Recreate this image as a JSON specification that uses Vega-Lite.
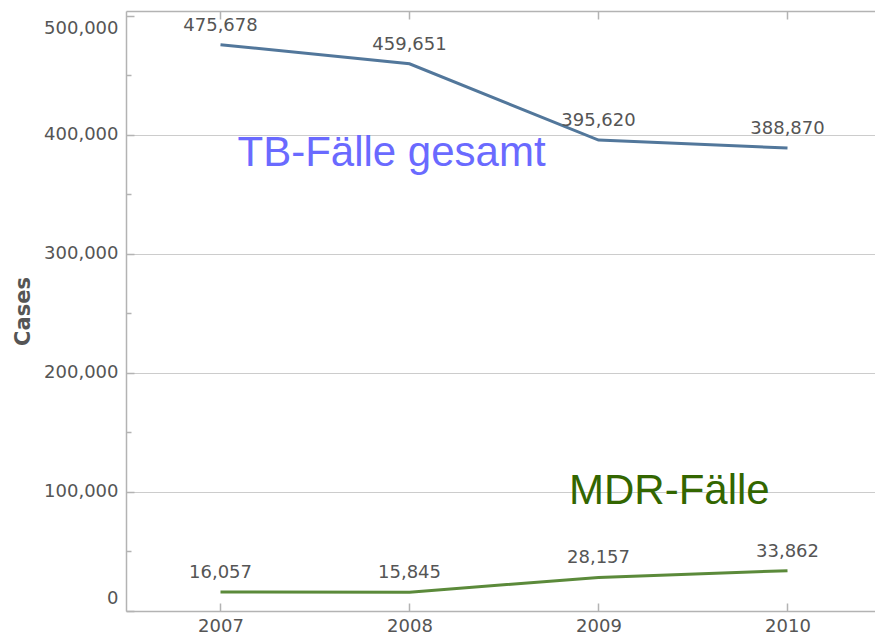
{
  "$schema": "https://vega.github.io/schema/vega-lite/v6.json",
  "width": 749,
  "height": 600,
  "padding": {"left": 12, "top": 10, "right": 0, "bottom": 0},
  "background": "white",
  "config": {
    "view": {"stroke": null},
    "font": "DejaVu Sans"
  },
  "data": {
    "values": [
      {"year": 2007, "series": "TB", "cases": 475678},
      {"year": 2008, "series": "TB", "cases": 459651},
      {"year": 2009, "series": "TB", "cases": 395620},
      {"year": 2010, "series": "TB", "cases": 388870},
      {"year": 2007, "series": "MDR", "cases": 16057},
      {"year": 2008, "series": "MDR", "cases": 15845},
      {"year": 2009, "series": "MDR", "cases": 28157},
      {"year": 2010, "series": "MDR", "cases": 33862}
    ]
  },
  "resolve": {"axis": {"x": "independent"}},
  "layer": [
    {
      "mark": {"type": "line", "strokeWidth": 3},
      "encoding": {
        "x": {
          "field": "year", "type": "quantitative",
          "scale": {"domain": [2006.5, 2010.463], "nice": false, "zero": false},
          "axis": {
            "values": [2007, 2008, 2009, 2010], "format": "d", "title": null, "grid": false,
            "tickSize": -8, "labelPadding": 14, "domainColor": "#b3b3b3", "domainWidth": 1.5,
            "tickColor": "#b3b3b3", "tickWidth": 1.5, "labelColor": "#555555", "labelFontSize": 18,
            "labelFont": "DejaVu Sans"
          }
        },
        "y": {
          "field": "cases", "type": "quantitative",
          "scale": {"domain": [0, 504000], "nice": false},
          "axis": {
            "values": [0, 50000, 100000, 150000, 200000, 250000, 300000, 350000, 400000, 450000, 500000],
            "labelExpr": "datum.value % 100000 === 0 ? format(datum.value, ',') : ''",
            "title": "Cases", "titleFontSize": 21, "titleFontWeight": "bold", "titleColor": "#555555",
            "titleFont": "DejaVu Sans", "titlePadding": 10,
            "tickSize": {"condition": {"test": "datum.value % 100000 !== 0", "value": -5}, "value": -8},
            "gridOpacity": {"condition": {"test": "datum.value % 100000 !== 0 || datum.value >= 500000 || datum.value === 0", "value": 0}, "value": 1},
            "gridColor": "#cccccc", "gridWidth": 1.2,
            "labelFlush": 8, "labelFlushOffset": -4, "labelPadding": 16,
            "domainColor": "#b3b3b3", "domainWidth": 1.5, "tickColor": "#b3b3b3", "tickWidth": 1.5,
            "labelColor": "#555555", "labelFontSize": 18, "labelFont": "DejaVu Sans"
          }
        },
        "color": {
          "field": "series", "type": "nominal",
          "scale": {"domain": ["TB", "MDR"], "range": ["#52779b", "#5b8a3a"]},
          "legend": null
        }
      }
    },
    {
      "mark": {"type": "text", "dy": -19, "fontSize": 18, "font": "DejaVu Sans", "color": "#555555"},
      "encoding": {
        "x": {
          "field": "year", "type": "quantitative",
          "axis": {
            "orient": "top", "values": [2007, 2008, 2009, 2010], "labels": false, "domain": true,
            "domainColor": "#b3b3b3", "domainWidth": 1.5,
            "grid": false, "title": null, "tickSize": -8, "tickColor": "#b3b3b3", "tickWidth": 1.5
          }
        },
        "y": {"field": "cases", "type": "quantitative"},
        "text": {"field": "cases", "type": "quantitative", "format": ","}
      }
    },
    {
      "data": {"values": [{"label": "TB-Fälle gesamt"}]},
      "mark": {"type": "text", "align": "left", "baseline": "alphabetic", "fontSize": 42, "font": "Liberation Sans", "color": "#6a6aff"},
      "encoding": {
        "x": {"datum": 2007.09, "type": "quantitative", "axis": null},
        "y": {"datum": 373800, "type": "quantitative"},
        "text": {"field": "label"}
      }
    },
    {
      "data": {"values": [{"label": "MDR-Fälle"}]},
      "mark": {"type": "text", "align": "left", "baseline": "alphabetic", "fontSize": 42, "font": "Liberation Sans", "color": "#336600"},
      "encoding": {
        "x": {"datum": 2008.844, "type": "quantitative", "axis": null},
        "y": {"datum": 89900, "type": "quantitative"},
        "text": {"field": "label"}
      }
    }
  ]
}
